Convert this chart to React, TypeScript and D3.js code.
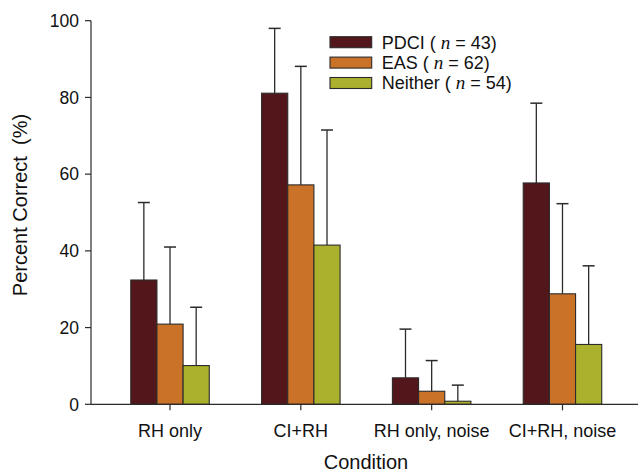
import React from "react";
import * as d3 from "d3";

const conditions = ["RH only", "CI+RH", "RH only, noise", "CI+RH, noise"];
const groups = ["PDCI", "EAS", "Neither"];
const groupN = [43, 62, 54];
const colors = ["#53161a", "#cb7229", "#abb02d"];

const pdciMean = [32.4, 81.1, 6.9, 57.7];
const pdciErr = [20.2, 16.9, 12.7, 20.8];
const easMean = [20.9, 57.2, 3.4, 28.8];
const easErr = [20.1, 30.9, 8.0, 23.5];
const neitherMean = [10.1, 41.5, 0.8, 15.6];
const neitherErr = [15.2, 30.0, 4.2, 20.5];

const yTicks = [0, 20, 40, 60, 80, 100];

const means = [pdciMean, easMean, neitherMean];
const errs = [pdciErr, easErr, neitherErr];

const font = "'Liberation Sans', Arial, sans-serif";

export default function App() {
  const width = 638;
  const height = 473;
  const axisX = 91;
  const axisY = 404.3;

  const x = d3
    .scaleBand<string>()
    .domain(conditions)
    .range([104.6, 627.9])
    .paddingInner(0.4)
    .paddingOuter(0.2);
  const xs = d3
    .scaleBand<string>()
    .domain(groups)
    .range([0, x.bandwidth()]);
  const y = d3.scaleLinear().domain([0, 100]).range([axisY, 20.7]);

  const stroke = "#2b2b2b";

  return (
    <svg
      width={width}
      height={height}
      style={{ position: "absolute", left: 0, top: 0, background: "#fff" }}
      fontFamily={font}
    >
      {/* bars with error bars */}
      {groups.map((g, gi) =>
        conditions.map((c, ci) => {
          const x0 = (x(c) ?? 0) + (xs(g) ?? 0);
          const w = xs.bandwidth();
          const top = y(means[gi][ci]);
          const errTop = y(means[gi][ci] + errs[gi][ci]);
          const cx = x0 + w / 2;
          return (
            <g key={g + c}>
              <line x1={cx} x2={cx} y1={top} y2={errTop} stroke={stroke} strokeWidth={1.3} />
              <line x1={cx - 6} x2={cx + 6} y1={errTop} y2={errTop} stroke={stroke} strokeWidth={1.5} />
              <rect
                x={x0}
                y={top}
                width={w}
                height={axisY - top}
                fill={colors[gi]}
                stroke={stroke}
                strokeWidth={1.1}
              />
            </g>
          );
        })
      )}

      {/* y axis */}
      <line x1={axisX} x2={axisX} y1={y(100)} y2={axisY} stroke={stroke} strokeWidth={1.2} />
      {yTicks.map((t) => (
        <g key={t}>
          <line x1={axisX - 6} x2={axisX} y1={y(t)} y2={y(t)} stroke={stroke} strokeWidth={1.2} />
          <text x={axisX - 12} y={y(t)} dy="0.36em" textAnchor="end" fontSize={17.5} fill="#111">
            {t}
          </text>
        </g>
      ))}

      {/* x axis */}
      <line x1={axisX} x2={width} y1={axisY} y2={axisY} stroke={stroke} strokeWidth={1.2} />
      {conditions.map((c) => {
        const cx = (x(c) ?? 0) + x.bandwidth() / 2;
        return (
          <g key={c}>
            <line x1={cx} x2={cx} y1={axisY} y2={axisY + 6} stroke={stroke} strokeWidth={1.2} />
            <text x={cx} y={437} textAnchor="middle" fontSize={18} fill="#111">
              {c}
            </text>
          </g>
        );
      })}

      {/* axis titles */}
      <text x={366} y={469} textAnchor="middle" fontSize={20} fill="#111">
        Condition
      </text>
      <text
        transform="translate(27,205) rotate(-90)"
        textAnchor="middle"
        fontSize={20}
        fill="#111"
        style={{ whiteSpace: "pre" }}
      >
        {"Percent Correct  (%)"}
      </text>

      {/* legend */}
      {groups.map((g, gi) => {
        const cy = 42.2 + gi * 20.4;
        return (
          <g key={g}>
            <rect x={330} y={cy - 5.5} width={41.7} height={11} fill={colors[gi]} stroke={stroke} strokeWidth={1.1} />
            <text x={381.7} y={cy} dy="0.36em" fontSize={18} fill="#111" style={{ whiteSpace: "pre" }}>
              {g + " ( "}
              <tspan fontFamily="'Liberation Serif', 'Times New Roman', serif" fontStyle="italic" fontSize={19}>
                n
              </tspan>
              {" = " + groupN[gi] + ")"}
            </text>
          </g>
        );
      })}
    </svg>
  );
}
